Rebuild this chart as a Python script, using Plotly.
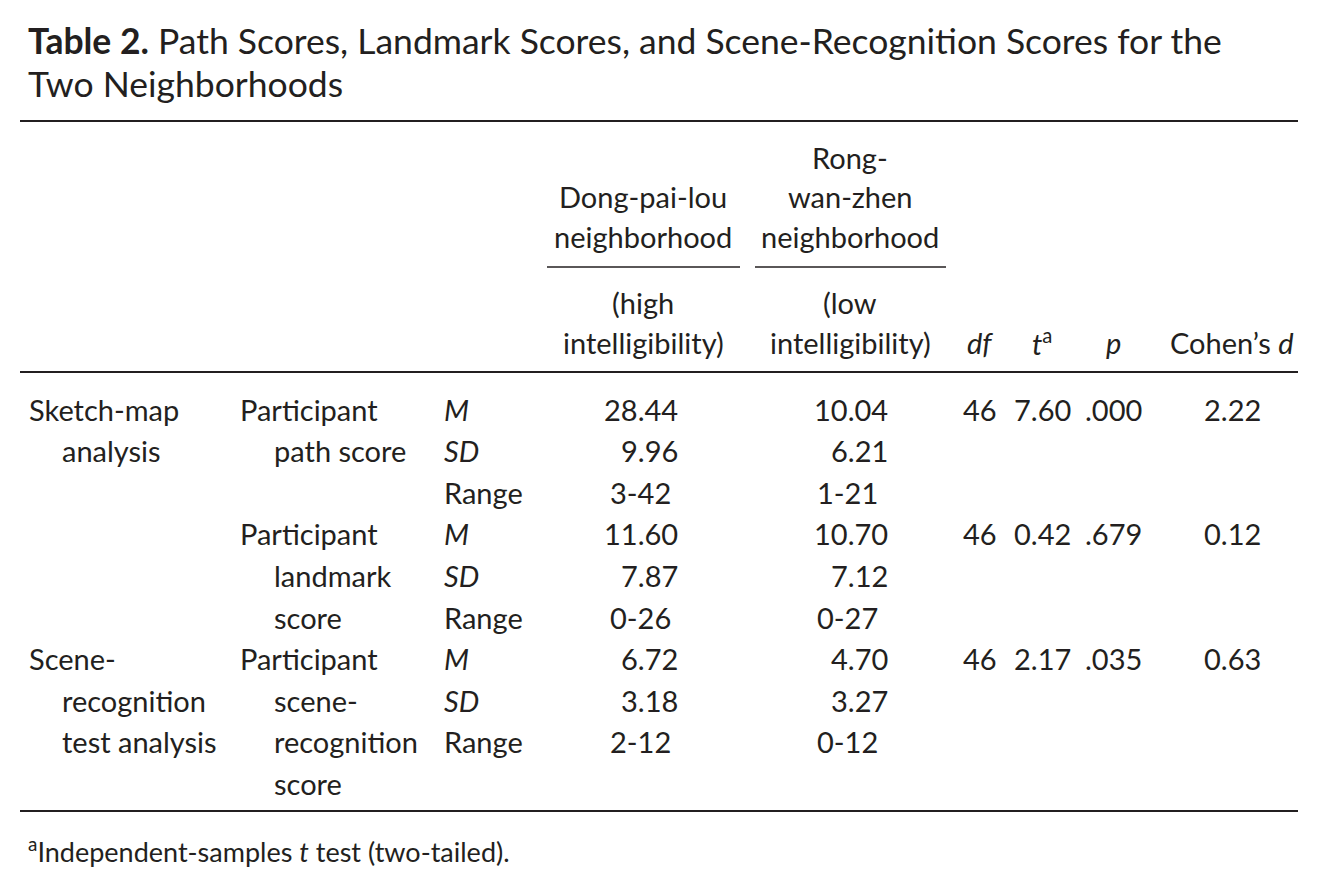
import plotly.graph_objects as go

# ---------------- data ----------------
title_bold = "Table 2."
title_line1 = " Path Scores, Landmark Scores, and Scene-Recognition Scores for the"
title_line2 = "Two Neighborhoods"

col_heads_top = [["Dong-pai-lou", "neighborhood"], ["Rong-", "wan-zhen", "neighborhood"]]
col_heads_sub = [["(high", "intelligibility)"], ["(low", "intelligibility)"]]
stat_heads = ["<i>df</i>", "<i>t</i><sup>a</sup>", "<i>p</i>", "Cohen’s <i>d</i>"]

analyses = [["Sketch-map", "analysis"], ["Scene-", "recognition", "test analysis"]]
analysis_block = [0, 2]  # block index where each analysis starts
measures = [["Participant", "path score"],
            ["Participant", "landmark", "score"],
            ["Participant", "scene-", "recognition", "score"]]
stats = ["<i>M</i>", "<i>SD</i>", "Range"]

dong_M = ["28.44", "11.60", "6.72"]
dong_SD = ["9.96", "7.87", "3.18"]
dong_range = ["3-42", "0-26", "2-12"]
rong_M = ["10.04", "10.70", "4.70"]
rong_SD = ["6.21", "7.12", "3.27"]
rong_range = ["1-21", "0-27", "0-12"]
df_vals = ["46", "46", "46"]
t_vals = ["7.60", "0.42", "2.17"]
p_vals = [".000", ".679", ".035"]
d_vals = ["2.22", "0.12", "0.63"]

footnote = "<sup>a</sup>Independent-samples <i>t</i> test (two-tailed)."

# ---------------- layout constants ----------------
W, H = 1324, 889
OFF = 8  # page body margin
FONT = "Lato"
COLOR = "#231f20"
FS = 29
row0, row_h = 409, 41.6
x_c1, x_c1i = 27, 60
x_c2, x_c2i = 238, 272
x_c3 = 442
x_dong_r, x_dong_rng = 680, 673
x_rong_r, x_rong_rng = 890, 880
x_dong_c, x_rong_c = 643, 850
x_df, x_t, x_p, x_d = 980, 1042, 1113, 1232

ann = []


def txt(x, y, s, anchor="left", size=FS):
    ann.append(dict(x=x, y=y, xref="x", yref="y", text=s, showarrow=False,
                    xanchor=anchor, yanchor="middle", align=anchor,
                    font=dict(family=FONT, size=size, color=COLOR)))


def ry(i):
    return row0 + i * row_h


# title
txt(26, 40, "<b>" + title_bold + "</b>" + title_line1, size=35.5)
txt(26, 83, title_line2, size=35.5)

# header
head_lines_y = [157, 196, 236]
for c, lines in zip([x_dong_c, x_rong_c], col_heads_top):
    off = 3 - len(lines)
    for k, s in enumerate(lines):
        txt(c, head_lines_y[off + k], s, anchor="center")
sub_y = [302, 342]
for c, lines in zip([x_dong_c, x_rong_c], col_heads_sub):
    for k, s in enumerate(lines):
        txt(c, sub_y[k], s, anchor="center")
for x, s in zip([x_df, x_t, x_p, x_d], stat_heads):
    txt(x, 342, s, anchor="center")

# body
for a, b0 in zip(analyses, analysis_block):
    for k, s in enumerate(a):
        txt(x_c1 if k == 0 else x_c1i, ry(b0 * 3 + k), s)

for b, m in enumerate(measures):
    for k, s in enumerate(m):
        txt(x_c2 if k == 0 else x_c2i, ry(b * 3 + k), s)
    for k, s in enumerate(stats):
        txt(x_c3, ry(b * 3 + k), s)
    txt(x_dong_r, ry(b * 3), dong_M[b], anchor="right")
    txt(x_dong_r, ry(b * 3 + 1), dong_SD[b], anchor="right")
    txt(x_dong_rng, ry(b * 3 + 2), dong_range[b], anchor="right")
    txt(x_rong_r, ry(b * 3), rong_M[b], anchor="right")
    txt(x_rong_r, ry(b * 3 + 1), rong_SD[b], anchor="right")
    txt(x_rong_rng, ry(b * 3 + 2), rong_range[b], anchor="right")
    txt(x_df, ry(b * 3), df_vals[b], anchor="center")
    txt(x_t, ry(b * 3), t_vals[b], anchor="center")
    txt(x_p, ry(b * 3), p_vals[b], anchor="center")
    txt(x_d, ry(b * 3), d_vals[b], anchor="center")

txt(26, 850, footnote, size=27)

# rules
shapes = []
for y in [121, 372, 811]:
    shapes.append(dict(type="line", xref="x", yref="y", x0=20, x1=1298, y0=y, y1=y,
                       line=dict(color=COLOR, width=2)))
for x0, x1 in [(547, 740), (755, 946)]:
    shapes.append(dict(type="line", xref="x", yref="y", x0=x0, x1=x1, y0=267, y1=267,
                       line=dict(color=COLOR, width=1.5)))

fig = go.Figure()
fig.update_layout(
    width=W - 2 * OFF, height=H - 2 * OFF, margin=dict(l=0, r=0, t=0, b=0),
    paper_bgcolor="white", plot_bgcolor="white",
    xaxis=dict(range=[OFF, W - OFF], visible=False, fixedrange=True),
    yaxis=dict(range=[H - OFF, OFF], visible=False, fixedrange=True),
    annotations=ann, shapes=shapes, showlegend=False,
)
fig.write_html("out.html", config={"displayModeBar": False})
